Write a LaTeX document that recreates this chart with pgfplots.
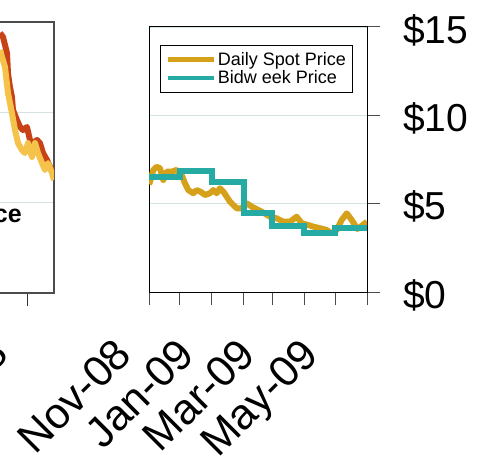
\documentclass[border=0pt]{standalone}
\usepackage{pgfplots}
\pgfplotsset{compat=1.18}
\usepackage{fontspec}
\setmainfont{Liberation Sans}
\definecolor{spotc}{RGB}{214,161,26}
\definecolor{bidc}{RGB}{38,170,164}
\definecolor{redc}{RGB}{200,66,24}
\definecolor{yelc}{RGB}{245,194,74}
\definecolor{gridc}{RGB}{212,226,226}
\begin{document}
\begin{tikzpicture}
\useasboundingbox (0,0) rectangle (480bp,459bp);
\clip (0,0) rectangle (480bp,459bp);
% left (cropped) chart
\begin{axis}[
  at={(-200bp,166bp)}, anchor=south west,
  scale only axis, width=254bp, height=271bp,
  xmin=-263, xmax=30, ymin=0, ymax=15,
  xtick={0}, xticklabels={Oct-08},
  ytick={5,10}, yticklabels={},
  xtick pos=bottom, ytick pos=left,
  tick align=outside, major tick length=13bp,
  ymajorgrids, grid style={color=gridc, line width=0.8bp},
  axis line style={black!70, line width=1.2bp},
  tick style={black!80, line width=1bp},
  xticklabel style={font=\fontsize{43bp}{43bp}\selectfont, inner sep=0pt,
     xshift=-17bp, yshift=-50bp, rotate=45, anchor=base east},
]
\addplot[redc, line width=6bp, line join=round] coordinates {
(-32.3,14.39) (-28.8,14.17) (-24.2,13.28) (-23.1,12.17) (-20.8,11.40) (-18.5,10.85)
(-17.3,10.13) (-12.7,9.57) (-9.2,9.19) (-5.8,9.02) (-1.2,9.19) (2.3,8.47) (5.8,8.30)
(10.4,8.47) (13.8,8.30) (17.3,7.75) (21.9,7.36) (25.4,6.97) (28.8,6.81) (30,6.59)};
\addplot[yelc, line width=6bp, line join=round] coordinates {
(-32.3,13.45) (-26.5,12.51) (-23.1,11.07) (-18.5,9.96) (-15.0,9.02) (-11.5,8.30)
(-6.9,7.91) (-3.5,7.75) (0,8.30) (4.6,7.53) (8.1,8.30) (11.5,7.75) (16.2,7.19)
(19.6,6.81) (23.1,7.19) (27.7,6.64) (30,6.25)};
\end{axis}
\node[anchor=base east, inner sep=0pt, font=\fontsize{25bp}{25bp}\selectfont\bfseries] at (22bp,236bp) {Price};
% right chart
\begin{axis}[
  at={(149bp,167bp)}, anchor=south west,
  scale only axis, width=218bp, height=265bp,
  xmin=0, xmax=212, ymin=0, ymax=15,
  xtick={0,30,61,92,120,151,181,212},
  xticklabels={Nov-08,,Jan-09,,Mar-09,,May-09,},
  ytick={0,5,10,15}, yticklabels={\$0,\$5,\$10,\$15},
  xtick pos=bottom, ytick pos=right,
  tick align=outside, major tick length=13bp,
  ymajorgrids, grid style={color=gridc, line width=0.8bp},
  axis line style={black, line width=1bp},
  tick style={black!70, line width=1bp},
  xticklabel style={font=\fontsize{43bp}{43bp}\selectfont, inner sep=0pt,
     xshift=-15bp, yshift=-52bp, rotate=45, anchor=base east},
  yticklabel style={font=\fontsize{39bp}{39bp}\selectfont, inner sep=0pt,
     anchor=west, xshift=23bp, yshift=-3bp},
  legend style={at={(0.05,0.932)}, anchor=north west, draw=black, line width=0.8bp,
     font=\fontsize{18bp}{19bp}\selectfont, inner xsep=5bp, inner ysep=5bp,
     row sep=0bp, cells={anchor=west}},
  legend image code/.code={\draw[#1, line width=4.5bp] (0bp,0bp) -- (46bp,0bp);},
]
\addplot[spotc, line width=6bp, line join=round] coordinates {
(0,6.10) (1.0,6.24) (4.2,6.91) (7.5,7.09) (10.7,7.00) (13.9,6.34) (17.2,6.81) (22.1,6.81)
(26.9,6.91) (31.8,6.62) (35.0,6.15) (38.2,5.77) (43.1,5.59) (46.4,5.77) (50.6,5.66)
(54.5,5.49) (59.3,5.59) (62.5,5.77) (65.8,5.59) (69.0,5.87) (72.3,5.68) (75.6,5.39)
(78.8,5.11) (82.0,4.92) (85.3,4.74) (90.1,4.74) (95.0,5.02) (99.9,4.83) (106.3,4.64)
(109.6,4.55) (117.7,4.26) (124.2,4.17) (130.6,3.98) (137.1,3.98) (143.6,4.26) (148.5,3.89)
(154.9,3.79) (159.8,3.70) (166.3,3.61) (172.8,3.51) (177.7,3.32) (182.5,3.51) (187.4,4.08)
(192.3,4.45) (197.1,4.08) (202.6,3.57) (206.8,3.74) (212,3.98)};
\addlegendentry{Daily Spot Price}
\addplot[bidc, line width=6bp, const plot mark left] coordinates {
(0,6.53) (30,6.87) (61,6.21) (92,4.48) (120,3.74) (151,3.32) (181,3.60) (212,3.60)};
\addlegendentry{Bidw eek Price}
\end{axis}
\end{tikzpicture}
\end{document}
